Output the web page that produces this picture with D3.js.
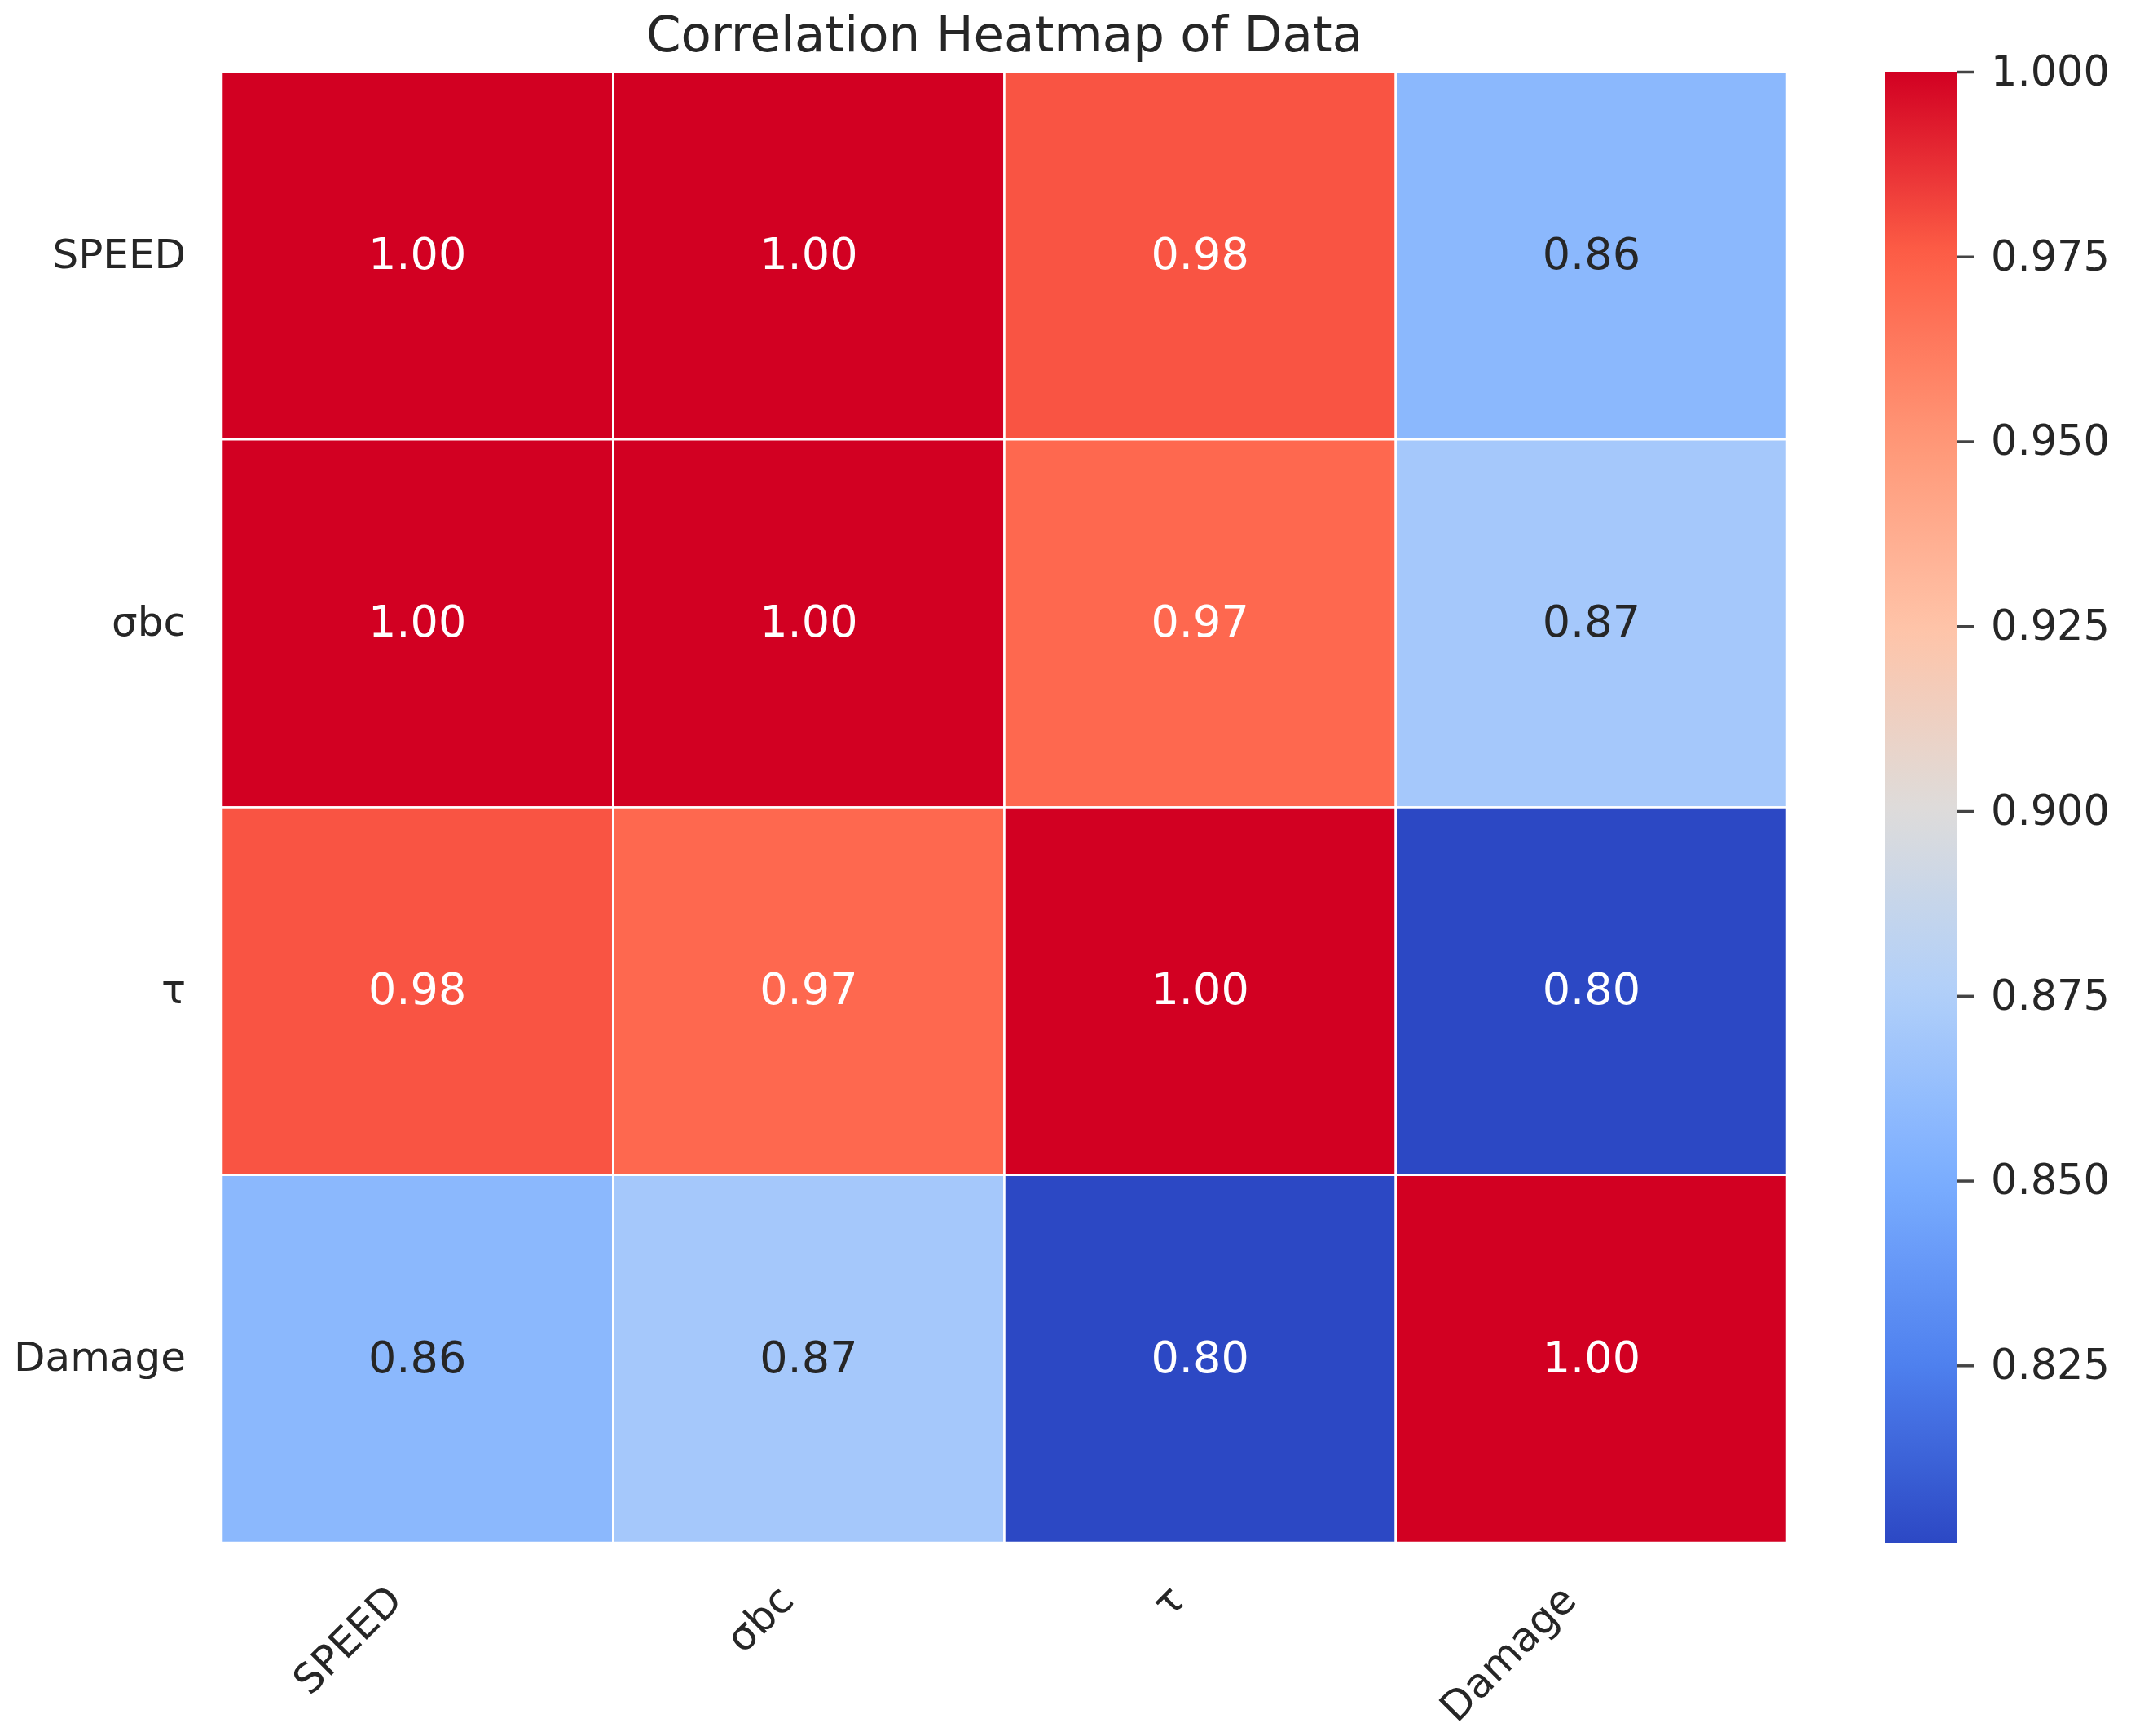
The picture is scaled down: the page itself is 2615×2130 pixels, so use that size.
<!DOCTYPE html>
<html>
<head>
<meta charset="utf-8">
<script src="https://cdn.jsdelivr.net/npm/d3@7"></script>
<style>
  body { margin: 0; background: #fff; }
  text { font-family: "DejaVu Sans", sans-serif; fill: #262626; }
</style>
</head>
<body>
<svg id="chart" width="2615" height="2130"></svg>
<script>
// variables, in the order they appear on both axes
const labels = ["SPEED", "σbc", "τ", "Damage"];

// correlation rows
const speedRow  = [1.000, 1.000, 0.978, 0.858];
const sigmaRow  = [1.000, 1.000, 0.971, 0.870];
const tauRow    = [0.978, 0.971, 1.000, 0.801];
const damageRow = [0.858, 0.870, 0.801, 1.000];
const matrix = [speedRow, sigmaRow, tauRow, damageRow];

// colour bar ticks
const cbTicks = [0.825, 0.850, 0.875, 0.900, 0.925, 0.950, 0.975, 1.000];

// colormap stops (value -> colour) sampled from the colour bar
const cmapValues = [0.801, 0.825, 0.850, 0.875, 0.900, 0.925, 0.950, 0.975, 1.000];
const cmapColors = ["#2c48c4", "#4e80ee", "#7aadff", "#b0cffa", "#dddcdb",
                    "#ffc3a8", "#ff9777", "#fe5f47", "#d20022"];

const svg = d3.select("#chart");
const plotLeft = 272, plotRight = 2193, plotTop = 88, plotBottom = 1893;

let x = d3.scaleBand().domain(labels).range([plotLeft, plotRight]);
let y = d3.scaleBand().domain(labels).range([plotTop, plotBottom]);
let color = d3.scaleLinear().domain(cmapValues).range(cmapColors)
              .interpolate(d3.interpolateRgb).clamp(true);

let cells = [];
matrix.forEach((row, i) => row.forEach((v, j) =>
    cells.push({row: labels[i], col: labels[j], value: v})));

// luminance test like seaborn's annotation colour switch
function textColor(c) {
    let rgb = d3.rgb(c);
    let lin = v => { v /= 255; return v <= 0.03928 ? v / 12.92 : Math.pow((v + 0.055) / 1.055, 2.4); };
    let lum = 0.2126 * lin(rgb.r) + 0.7152 * lin(rgb.g) + 0.0722 * lin(rgb.b);
    return lum > 0.408 ? "#262626" : "#ffffff";
}

let cell = svg.append("g").selectAll("g")
    .data(cells).enter().append("g");

cell.append("rect")
    .attr("x", d => x(d.col))
    .attr("y", d => y(d.row))
    .attr("width", x.bandwidth())
    .attr("height", y.bandwidth())
    .attr("fill", d => color(d.value))
    .attr("stroke", "#ffffff")
    .attr("stroke-width", 2.5);

cell.append("text")
    .attr("x", d => x(d.col) + x.bandwidth() / 2)
    .attr("y", d => y(d.row) + y.bandwidth() / 2)
    .attr("dy", "0.30em")
    .attr("text-anchor", "middle")
    .style("font-size", "54px")
    .style("fill", d => textColor(color(d.value)))
    .text(d => d.value.toFixed(2));

// row labels
svg.append("g").selectAll("text")
    .data(labels).enter().append("text")
    .attr("x", plotLeft - 44)
    .attr("y", d => y(d) + y.bandwidth() / 2)
    .attr("dy", "0.30em")
    .attr("text-anchor", "end")
    .style("font-size", "50px")
    .text(d => d);

// column labels, rotated 45 degrees
svg.append("g").selectAll("text")
    .data(labels).enter().append("text")
    .attr("transform", d => `translate(${x(d) + x.bandwidth() / 2 - 16}, ${plotBottom + 73}) rotate(-45)`)
    .attr("text-anchor", "end")
    .style("font-size", "50px")
    .text(d => d);

// title
svg.append("text")
    .attr("x", (plotLeft + plotRight) / 2)
    .attr("y", 63)
    .attr("text-anchor", "middle")
    .style("font-size", "61px")
    .text("Correlation Heatmap of Data");

// colour bar
const cbLeft = 2313, cbWidth = 89;
let cb = d3.scaleLinear().domain([cmapValues[0], 1]).range([plotBottom, plotTop]);

let grad = svg.append("defs").append("linearGradient")
    .attr("id", "cbgrad")
    .attr("x1", 0).attr("y1", 1).attr("x2", 0).attr("y2", 0);
grad.selectAll("stop")
    .data(d3.range(0, 1.0001, 0.02)).enter().append("stop")
    .attr("offset", t => t)
    .attr("stop-color", t => color(cb.domain()[0] + t * (cb.domain()[1] - cb.domain()[0])));

svg.append("rect")
    .attr("x", cbLeft)
    .attr("y", plotTop)
    .attr("width", cbWidth)
    .attr("height", plotBottom - plotTop)
    .attr("fill", "url(#cbgrad)");

let cbAxis = svg.append("g")
    .attr("transform", `translate(${cbLeft + cbWidth}, 0)`)
    .call(d3.axisRight(cb).tickValues(cbTicks).tickFormat(d3.format(".3f"))
            .tickSize(20).tickPadding(21));
cbAxis.select(".domain").remove();
cbAxis.selectAll(".tick line").attr("stroke", "#444").attr("stroke-width", 3.5);
cbAxis.selectAll(".tick text")
    .style("font-size", "51px")
    .style("font-family", "DejaVu Sans, sans-serif")
    .attr("fill", "#262626");
</script>
</body>
</html>
